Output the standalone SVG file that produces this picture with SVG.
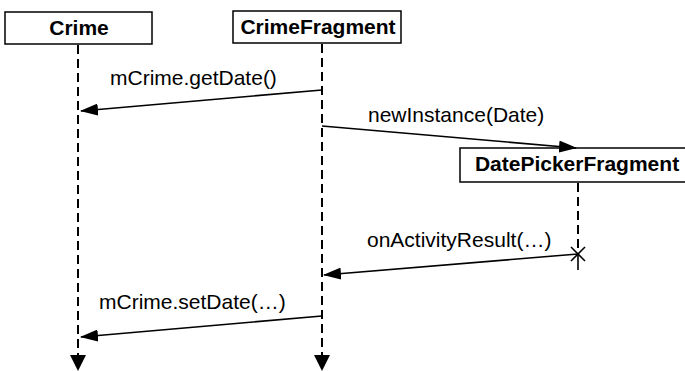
<svg xmlns="http://www.w3.org/2000/svg" width="685" height="371" viewBox="0 0 685 371">
<style>
.box{fill:#fff;stroke:#000;stroke-width:1.5}
.name{font-family:"Liberation Sans",Arial,sans-serif;font-weight:bold;font-size:21px;text-anchor:middle}
.lbl{font-family:"Liberation Sans",Arial,sans-serif;font-size:21px}
.life{stroke:#000;stroke-width:2;stroke-dasharray:9,5;fill:none}
.msg{stroke:#000;stroke-width:1.6;fill:none;marker-end:url(#ah)}
</style>
<defs>
<marker id="ah" markerWidth="18" markerHeight="12" refX="17" refY="6" orient="auto" markerUnits="userSpaceOnUse">
<path d="M0,0 L18,6 L0,12 Z" fill="#000"/>
</marker>
</defs>
<g id="crime">
<rect class="box" x="5" y="12" width="147" height="32"/>
<text class="name" x="79" y="35">Crime</text>
</g>
<g id="crimefragment">
<rect class="box" x="233" y="11" width="168" height="32"/>
<text class="name" x="318" y="34">CrimeFragment</text>
</g>
<g id="datepickerfragment">
<rect class="box" x="460" y="148" width="226" height="34"/>
<text class="name" x="577" y="171">DatePickerFragment</text>
</g>
<g id="connectors">
<line class="life" x1="78" y1="45" x2="78" y2="356"/>
<path d="M70,355 L86,355 L78,371 Z" fill="#000"/>
<line class="life" x1="322" y1="44" x2="322" y2="356"/>
<path d="M314,355 L330,355 L322,371 Z" fill="#000"/>
<line class="life" x1="578" y1="183" x2="578" y2="254"/>
<line x1="578" y1="254" x2="578" y2="270" stroke="#000" stroke-width="1.6"/>
<line x1="571" y1="247" x2="585" y2="261" stroke="#000" stroke-width="1.6"/>
<line x1="585" y1="247" x2="571" y2="261" stroke="#000" stroke-width="1.6"/>
<line class="msg" x1="322" y1="90" x2="81" y2="111"/>
<line class="msg" x1="322" y1="126" x2="576" y2="148"/>
<line class="msg" x1="578" y1="254" x2="324" y2="275"/>
<line class="msg" x1="322" y1="316" x2="81" y2="337"/>
</g>
<text class="lbl" x="110" y="85">mCrime.getDate()</text>
<text class="lbl" x="368" y="122">newInstance(Date)</text>
<text class="lbl" x="367" y="247">onActivityResult(…)</text>
<text class="lbl" x="99" y="309">mCrime.setDate(…)</text>
</svg>
